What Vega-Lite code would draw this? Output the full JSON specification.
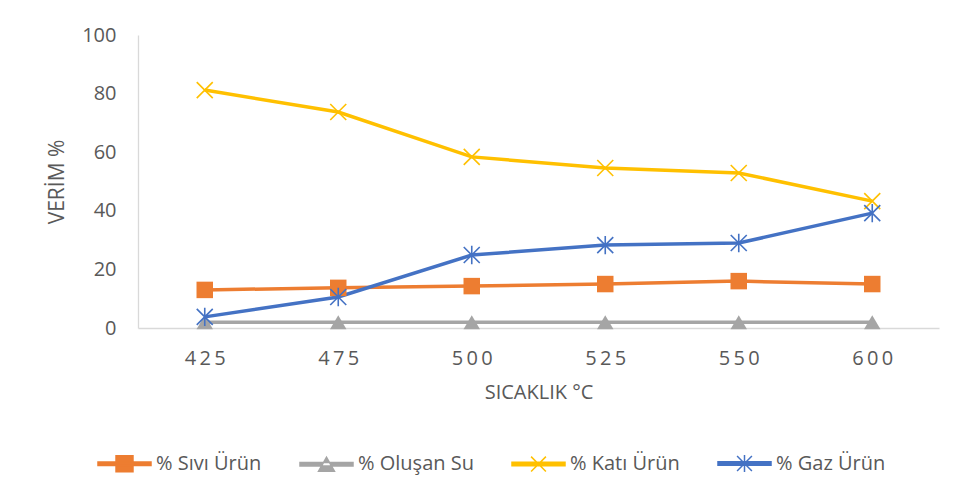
{
  "$schema": "https://vega.github.io/schema/vega-lite/v6.json",
  "width": 801,
  "height": 293,
  "autosize": {"type": "none"},
  "padding": {"left": 138, "top": 35, "right": 22, "bottom": 167},
  "background": "white",
  "config": {
    "font": "Open Sans",
    "view": {"stroke": null},
    "axis": {"labelFont": "Open Sans", "titleFont": "Open Sans", "labelColor": "#595959", "titleColor": "#595959", "titleFontWeight": "normal", "labelFontSize": 20, "titleFontSize": 20, "domainColor": "#D9D9D9", "domainWidth": 1.3, "ticks": false, "tickSize": 0, "grid": false},
    "legend": {"labelFont": "Open Sans", "labelColor": "#595959", "labelFontSize": 20}
  },
  "data": {
    "values": [
      {"temp": "425", "series": "% Sıvı Ürün", "value": 13.0},
      {"temp": "475", "series": "% Sıvı Ürün", "value": 13.7},
      {"temp": "500", "series": "% Sıvı Ürün", "value": 14.3},
      {"temp": "525", "series": "% Sıvı Ürün", "value": 15.0},
      {"temp": "550", "series": "% Sıvı Ürün", "value": 16.0},
      {"temp": "600", "series": "% Sıvı Ürün", "value": 15.0},
      {"temp": "425", "series": "% Oluşan Su", "value": 2.0},
      {"temp": "475", "series": "% Oluşan Su", "value": 2.0},
      {"temp": "500", "series": "% Oluşan Su", "value": 2.0},
      {"temp": "525", "series": "% Oluşan Su", "value": 2.0},
      {"temp": "550", "series": "% Oluşan Su", "value": 2.0},
      {"temp": "600", "series": "% Oluşan Su", "value": 2.0},
      {"temp": "425", "series": "% Katı Ürün", "value": 81.2},
      {"temp": "475", "series": "% Katı Ürün", "value": 73.7},
      {"temp": "500", "series": "% Katı Ürün", "value": 58.4},
      {"temp": "525", "series": "% Katı Ürün", "value": 54.6},
      {"temp": "550", "series": "% Katı Ürün", "value": 52.9},
      {"temp": "600", "series": "% Katı Ürün", "value": 43.3},
      {"temp": "425", "series": "% Gaz Ürün", "value": 3.8},
      {"temp": "475", "series": "% Gaz Ürün", "value": 10.6},
      {"temp": "500", "series": "% Gaz Ürün", "value": 24.9},
      {"temp": "525", "series": "% Gaz Ürün", "value": 28.3},
      {"temp": "550", "series": "% Gaz Ürün", "value": 29.0},
      {"temp": "600", "series": "% Gaz Ürün", "value": 39.2}
    ]
  },
  "encoding": {
    "x": {
      "field": "temp", "type": "ordinal", "sort": ["425", "475", "500", "525", "550", "600"],
      "scale": {"type": "point", "padding": 0.5},
      "axis": {"title": "SICAKLIK °C", "labelAngle": 0, "labelPadding": 20, "titlePadding": 14, "labelExpr": "join(split(datum.label, ''), '\u2009')"}
    },
    "y": {
      "field": "value", "type": "quantitative",
      "scale": {"domain": [0, 100], "nice": false},
      "axis": {"title": "VERİM %", "values": [0, 20, 40, 60, 80, 100], "labelPadding": 22, "titlePadding": 14, "titleFontSize": 21}
    },
    "color": {
      "field": "series", "type": "nominal",
      "scale": {"domain": ["% Sıvı Ürün", "% Oluşan Su", "% Katı Ürün", "% Gaz Ürün"], "range": ["#ED7D31", "#A5A5A5", "#FFC000", "#4472C4"]},
      "legend": {
        "title": null, "orient": "none", "legendX": -41, "legendY": 401, "direction": "horizontal", "columns": 4, "columnPadding": 35,
        "symbolSize": 2809, "labelOffset": 4,
        "encode": {
          "symbols": {
            "update": {
              "shape": {"signal": "datum.value === '% Sıvı Ürün' ? 'M-1,-0.066H1V0.066H-1Z M-0.32,-0.3H0.32V0.3H-0.32Z' : datum.value === '% Oluşan Su' ? 'M-1,-0.066H1V0.066H-1Z M-0.3,0.26L0.3,0.26L0,-0.26Z' : datum.value === '% Katı Ürün' ? 'M-1,-0.066H1V0.066H-1Z M-0.28,-0.28L0.28,0.28M-0.28,0.28L0.28,-0.28' : 'M-1,-0.066H1V0.066H-1Z M-0.28,-0.28L0.28,0.28M-0.28,0.28L0.28,-0.28M0,-0.32V0.32'"},
              "fill": {"scale": "color", "field": "value"},
              "stroke": {"scale": "color", "field": "value"},
              "strokeWidth": {"value": 1.5},
              "fillOpacity": {"value": 1},
              "opacity": {"value": 1}
            }
          }
        }
      }
    }
  },
  "resolve": {"scale": {"shape": "independent"}},
  "layer": [
    {"mark": {"type": "line", "strokeWidth": 3.5}},
    {
      "transform": [{"filter": "datum.series === '% Sıvı Ürün' || datum.series === '% Oluşan Su'"}],
      "mark": {"type": "point", "filled": true, "opacity": 1, "strokeWidth": 1},
      "encoding": {
        "shape": {"field": "series", "type": "nominal", "legend": null,
          "scale": {"domain": ["% Sıvı Ürün", "% Oluşan Su"], "range": ["M-1,-1H1V1H-1Z", "M-1,0.85L1,0.85L0,-0.85Z"]}},
        "size": {"value": 272}
      }
    },
    {
      "transform": [{"filter": "datum.series === '% Katı Ürün' || datum.series === '% Gaz Ürün'"}],
      "mark": {"type": "point", "filled": false, "opacity": 1, "strokeWidth": 1.6},
      "encoding": {
        "shape": {"field": "series", "type": "nominal", "legend": null,
          "scale": {"domain": ["% Katı Ürün", "% Gaz Ürün"], "range": ["M-1,-1L1,1M-1,1L1,-1", "M-1,-1L1,1M-1,1L1,-1M0,-1.15V1.15"]}},
        "size": {"value": 256}
      }
    }
  ]
}
